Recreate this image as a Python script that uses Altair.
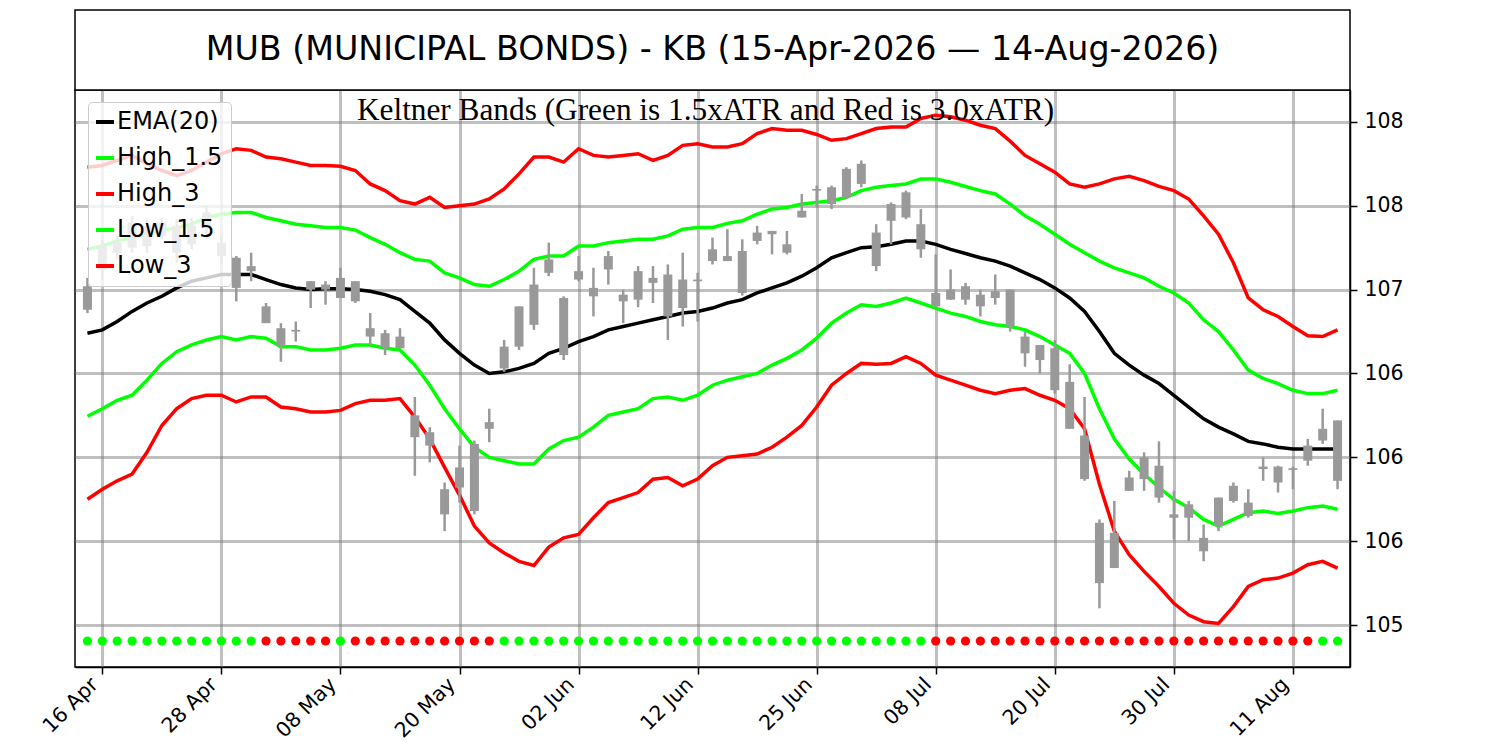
import json
import altair as alt
import pandas as pd

TITLE = "MUB (MUNICIPAL BONDS) - KB (15-Apr-2026 \u2014 14-Aug-2026)"
SUBTITLE = "Keltner Bands (Green is 1.5xATR and Red is 3.0xATR)"

DATES = [
    "15 Apr", "16 Apr", "17 Apr", "20 Apr", "21 Apr", "22 Apr", "23 Apr", "24 Apr", "27 Apr", "28 Apr",
    "29 Apr", "30 Apr", "01 May", "04 May", "05 May", "06 May", "07 May", "08 May", "11 May", "12 May",
    "13 May", "14 May", "15 May", "18 May", "19 May", "20 May", "21 May", "22 May", "26 May", "27 May",
    "28 May", "29 May", "01 Jun", "02 Jun", "03 Jun", "04 Jun", "05 Jun", "08 Jun", "09 Jun", "10 Jun",
    "11 Jun", "12 Jun", "15 Jun", "16 Jun", "17 Jun", "18 Jun", "22 Jun", "23 Jun", "24 Jun", "25 Jun",
    "26 Jun", "29 Jun", "30 Jun", "01 Jul", "02 Jul", "06 Jul", "07 Jul", "08 Jul", "09 Jul", "10 Jul",
    "13 Jul", "14 Jul", "15 Jul", "16 Jul", "17 Jul", "20 Jul", "21 Jul", "22 Jul", "23 Jul", "24 Jul",
    "27 Jul", "28 Jul", "29 Jul", "30 Jul", "31 Jul", "03 Aug", "04 Aug", "05 Aug", "06 Aug", "07 Aug",
    "10 Aug", "11 Aug", "12 Aug", "13 Aug", "14 Aug",
]
X_TICKS = [1, 9, 17, 25, 33, 41, 49, 57, 65, 73, 81]
Y_TICKS = [105.0, 105.5, 106.0, 106.5, 107.0, 107.5, 108.0]
Y_LABELS = ["105", "106", "106", "106", "107", "108", "108"]

OPEN = [107.02, 107.12, 107.28, 107.25, 107.38, 107.32, 107.38, 107.27, 107.38, 107.28,
        107.01, 107.14, 106.90, 106.77, 106.76, 107.05, 107.03, 106.95, 107.05, 106.77,
        106.74, 106.65, 106.25, 106.15, 105.66, 105.82, 105.68, 106.21, 106.53, 106.66,
        106.79, 107.10, 106.61, 107.06, 107.01, 107.12, 106.97, 106.94, 107.07, 107.09,
        106.89, 107.06, 107.17, 107.20, 107.23, 107.29, 107.35, 107.27, 107.43, 107.60,
        107.51, 107.55, 107.63, 107.34, 107.41, 107.43, 107.39, 106.98, 106.94, 107.02,
        106.97, 106.99, 107.00, 106.72, 106.67, 106.65, 106.45, 106.13, 105.61, 105.34,
        105.80, 105.87, 105.95, 105.66, 105.72, 105.52, 105.59, 105.83, 105.65, 105.945,
        105.945, 105.935, 105.98, 106.10, 106.22]
HIGH = [107.07, 107.30, 107.32, 107.44, 107.42, 107.43, 107.42, 107.43, 107.50, 107.32,
        107.20, 107.22, 106.92, 106.80, 106.81, 107.05, 107.05, 107.13, 107.05, 106.86,
        106.76, 106.77, 106.36, 106.18, 105.85, 106.07, 106.10, 106.29, 106.70, 106.90,
        107.13, 107.28, 106.96, 107.20, 107.13, 107.23, 107.00, 107.14, 107.14, 107.15,
        107.22, 107.10, 107.31, 107.36, 107.30, 107.38, 107.35, 107.35, 107.57, 107.62,
        107.62, 107.73, 107.77, 107.39, 107.52, 107.59, 107.48, 107.21, 107.12, 107.04,
        107.00, 107.09, 107.00, 106.75, 106.67, 106.70, 106.555, 106.36, 105.63, 105.74,
        105.92, 106.03, 106.095, 105.80, 105.74, 105.60, 105.76, 105.85, 105.81, 106.00,
        105.95, 105.945, 106.11, 106.29, 106.22]
LOW = [106.86, 107.06, 107.18, 107.22, 107.22, 107.30, 107.16, 107.24, 107.30, 107.15,
       106.93, 107.05, 106.80, 106.57, 106.69, 106.89, 106.91, 106.95, 106.92, 106.67,
       106.61, 106.65, 105.89, 105.97, 105.56, 105.73, 105.66, 106.09, 106.51, 106.64,
       106.76, 107.08, 106.58, 107.05, 106.84, 107.03, 106.80, 106.895, 106.92, 106.70,
       106.78, 106.81, 107.15, 107.17, 106.965, 107.27, 107.21, 107.21, 107.43, 107.49,
       107.48, 107.54, 107.61, 107.11, 107.27, 107.42, 107.19, 106.90, 106.94, 106.91,
       106.84, 106.91, 106.75, 106.54, 106.50, 106.38, 106.17, 105.86, 105.10, 105.34,
       105.80, 105.80, 105.73, 105.51, 105.50, 105.38, 105.56, 105.73, 105.64, 105.86,
       105.79, 105.81, 105.95, 106.08, 105.81]
CLOSE = [106.88, 107.26, 107.22, 107.40, 107.26, 107.40, 107.22, 107.38, 107.46, 107.20,
         107.19, 107.11, 106.80, 106.67, 106.75, 107.00, 107.00, 107.07, 106.93, 106.72,
         106.65, 106.72, 106.12, 106.07, 105.81, 105.94, 106.08, 106.17, 106.66, 106.90,
         107.03, 107.18, 106.95, 107.11, 106.96, 107.20, 106.93, 107.11, 107.04, 106.84,
         107.06, 107.05, 107.24, 107.17, 106.98, 107.34, 107.33, 107.22, 107.47, 107.59,
         107.61, 107.72, 107.75, 107.14, 107.51, 107.58, 107.24, 106.90, 107.00, 106.94,
         106.90, 106.95, 106.78, 106.62, 106.58, 106.40, 106.17, 105.87, 105.25, 105.55,
         105.88, 106.00, 105.76, 105.64, 105.64, 105.44, 105.76, 105.74, 105.73, 105.93,
         105.85, 105.925, 106.07, 106.17, 105.86]

EMA = [106.74, 106.76, 106.81, 106.87, 106.92, 106.96, 107.01, 107.05, 107.07, 107.09,
       107.09, 107.09, 107.06, 107.03, 107.01, 107.00, 107.005, 107.005, 107.00, 106.99,
       106.97, 106.94, 106.87, 106.80, 106.70, 106.62, 106.55, 106.50, 106.51, 106.53,
       106.56, 106.62, 106.65, 106.69, 106.72, 106.76, 106.78, 106.80, 106.82, 106.84,
       106.86, 106.87, 106.89, 106.92, 106.94, 106.98, 107.01, 107.04, 107.08, 107.13,
       107.19, 107.22, 107.25, 107.255, 107.27, 107.29, 107.29, 107.27, 107.24, 107.215,
       107.19, 107.17, 107.14, 107.10, 107.06, 107.01, 106.95, 106.87, 106.75, 106.62,
       106.55, 106.49, 106.44, 106.37, 106.30, 106.23, 106.18, 106.14, 106.095, 106.08,
       106.06, 106.05, 106.05, 106.05, 106.05]
HIGH_15 = [107.24, 107.26, 107.29, 107.31, 107.33, 107.35, 107.37, 107.39, 107.43, 107.45,
           107.46, 107.46, 107.43, 107.41, 107.39, 107.38, 107.37, 107.37, 107.355, 107.31,
           107.27, 107.22, 107.18, 107.17, 107.10, 107.07, 107.03, 107.02, 107.06, 107.11,
           107.18, 107.20, 107.20, 107.26, 107.26, 107.28, 107.29, 107.30, 107.30, 107.32,
           107.36, 107.37, 107.37, 107.395, 107.41, 107.45, 107.48, 107.49, 107.51, 107.52,
           107.53, 107.55, 107.59, 107.61, 107.62, 107.63, 107.66, 107.66, 107.64, 107.615,
           107.59, 107.57, 107.51, 107.44, 107.39, 107.33, 107.27, 107.22, 107.17, 107.13,
           107.10, 107.07, 107.02, 106.98, 106.92, 106.82, 106.75, 106.64, 106.52, 106.47,
           106.44, 106.40, 106.38, 106.38, 106.40]
HIGH_3 = [107.73, 107.74, 107.77, 107.80, 107.75, 107.71, 107.68, 107.71, 107.76, 107.81,
          107.84, 107.83, 107.79, 107.78, 107.76, 107.74, 107.74, 107.735, 107.71, 107.63,
          107.59, 107.53, 107.51, 107.55, 107.49, 107.50, 107.51, 107.54, 107.60, 107.69,
          107.79, 107.79, 107.76, 107.84, 107.80, 107.79, 107.80, 107.81, 107.77, 107.80,
          107.86, 107.87, 107.85, 107.85, 107.87, 107.93, 107.96, 107.95, 107.95, 107.925,
          107.89, 107.90, 107.93, 107.96, 107.97, 107.97, 108.02, 108.04, 108.03, 108.01,
          107.98, 107.96, 107.885, 107.80, 107.75, 107.70, 107.63, 107.61, 107.63, 107.66,
          107.675, 107.65, 107.615, 107.59, 107.54, 107.44, 107.33, 107.16, 106.95, 106.88,
          106.84, 106.78, 106.725, 106.72, 106.76]
LOW_15 = [106.245, 106.29, 106.34, 106.37, 106.46, 106.56, 106.63, 106.67, 106.70, 106.72,
          106.70, 106.72, 106.71, 106.66, 106.66, 106.64, 106.64, 106.65, 106.67, 106.67,
          106.65, 106.64, 106.55, 106.43, 106.29, 106.17, 106.06, 106.00, 105.98, 105.96,
          105.96, 106.05, 106.10, 106.12, 106.18, 106.25, 106.27, 106.29, 106.35, 106.36,
          106.34, 106.37, 106.43, 106.46, 106.48, 106.50, 106.55, 106.59, 106.64, 106.71,
          106.80, 106.86, 106.91, 106.90, 106.92, 106.95, 106.92, 106.89, 106.86, 106.84,
          106.81, 106.79, 106.78, 106.76, 106.72, 106.67, 106.62, 106.50, 106.29, 106.11,
          105.99, 105.90, 105.82, 105.75, 105.70, 105.63, 105.59, 105.63, 105.67, 105.68,
          105.665, 105.68, 105.70, 105.71, 105.69]
LOW_3 = [105.75, 105.81, 105.86, 105.90, 106.03, 106.19, 106.29, 106.35, 106.37, 106.37,
         106.33, 106.36, 106.36, 106.30, 106.29, 106.27, 106.27, 106.28, 106.32, 106.34,
         106.34, 106.35, 106.24, 106.11, 105.94, 105.775, 105.59, 105.49, 105.43, 105.38,
         105.355, 105.465, 105.52, 105.54, 105.64, 105.73, 105.76, 105.79, 105.87, 105.88,
         105.83, 105.87, 105.95, 106.00, 106.01, 106.02, 106.06, 106.12, 106.19, 106.30,
         106.43, 106.50, 106.56, 106.555, 106.56, 106.60, 106.56, 106.49, 106.46, 106.43,
         106.40, 106.38, 106.40, 106.41, 106.37, 106.34, 106.29, 106.17, 105.84, 105.56,
         105.42, 105.32, 105.23, 105.13, 105.06, 105.02, 105.01, 105.11, 105.23, 105.27,
         105.28, 105.31, 105.36, 105.38, 105.34]

# signal dots: g = green, r = red
SIGNAL = (["g"] * 12 + ["r"] * 5 + ["g"] + ["r"] * 10 + ["g"] * 29 + ["r"] * 26 + ["g"] * 2)
DOT_LEVEL = 104.905

SERIES = ["EMA(20)", "High_1.5", "High_3", "Low_1.5", "Low_3"]
SERIES_COLORS = ["#000000", "#00ff00", "#ff0000", "#00ff00", "#ff0000"]
SERIES_VALUES = [EMA, HIGH_15, HIGH_3, LOW_15, LOW_3]

N = len(DATES)
idx = list(range(N))

candles = pd.DataFrame({"i": idx, "date": DATES, "open": OPEN, "high": HIGH,
                        "low": LOW, "close": CLOSE})
lines = pd.DataFrame([
    {"i": i, "series": name, "value": vals[i]}
    for name, vals in zip(SERIES, SERIES_VALUES) for i in idx
])
dots = pd.DataFrame({"i": idx, "sig": SIGNAL, "lvl": [DOT_LEVEL] * N})

W, H = 1275, 577
GRAY = "#999999"
TICK_FONT = 20.5

x_axis = alt.Axis(values=X_TICKS, labelExpr=f"{json.dumps(DATES)}[datum.value]",
                  labelAngle=-45, labelAlign="right", labelBaseline="top",
                  labelPadding=0, labelOffset=-15, title=None, grid=True, tickSize=7,
                  labelFontSize=TICK_FONT, labelFont="DejaVu Sans", labelColor="black")
y_axis = alt.Axis(orient="right", values=Y_TICKS,
                  labelExpr=f"{json.dumps(Y_LABELS)}[indexof({json.dumps(Y_TICKS)}, datum.value)]",
                  title=None, grid=True, labelPadding=7, tickSize=7,
                  labelFontSize=TICK_FONT, labelFont="DejaVu Sans", labelColor="black")
xs = alt.Scale(domain=[-0.5, N - 0.5], nice=False, zero=False)
ys = alt.Scale(domain=[104.75, 108.19], nice=False, zero=False)

X = alt.X("i:Q", scale=xs, axis=x_axis)

line_layer = alt.Chart(lines).mark_line(strokeWidth=3.5).encode(
    x=X,
    y=alt.Y("value:Q", scale=ys, axis=y_axis),
    color=alt.Color("series:N",
                    scale=alt.Scale(domain=SERIES, range=SERIES_COLORS),
                    legend=alt.Legend(title=None, orient="none", legendX=13, legendY=12,
                                      symbolType="stroke", symbolSize=324,
                                      symbolStrokeWidth=4, symbolOffset=-3,
                                      labelFontSize=24,
                                      labelFont="DejaVu Sans", labelColor="black",
                                      rowPadding=12, padding=8, labelOffset=0,
                                      fillColor="rgba(255,255,255,0.8)",
                                      strokeColor="#cccccc", cornerRadius=4, zindex=1)),
)

wicks = alt.Chart(candles).mark_rule(color=GRAY, strokeWidth=2.5).encode(
    x=X, y=alt.Y("low:Q", scale=ys, axis=y_axis), y2="high:Q"
)
bodies = alt.Chart(candles).mark_bar(color=GRAY, size=9).encode(
    x=X, y=alt.Y("open:Q", scale=ys, axis=y_axis), y2="close:Q"
)

green_dots = alt.Chart(dots).transform_filter("datum.sig == 'g'").mark_circle(
    size=85, opacity=1, color="#00ff00").encode(
    x=X, y=alt.Y("lvl:Q", scale=ys, axis=y_axis))
red_dots = alt.Chart(dots).transform_filter("datum.sig == 'r'").mark_circle(
    size=85, opacity=1, color="#ff0000").encode(
    x=X, y=alt.Y("lvl:Q", scale=ys, axis=y_axis))

title_df = pd.DataFrame({"t": [TITLE], "s": [SUBTITLE]})
title_box = alt.Chart(title_df).mark_rect(fill="white", stroke="black", strokeWidth=1.5).encode(
    x=alt.value(0), x2=alt.value(W), y=alt.value(-80), y2=alt.value(0))
title_text = alt.Chart(title_df).mark_text(font="DejaVu Sans", fontSize=33.3, align="center",
                                           baseline="middle", color="black").encode(
    x=alt.value(W / 2), y=alt.value(-40), text="t:N")
subtitle_text = alt.Chart(title_df).mark_text(font="Liberation Serif", fontSize=31.3,
                                              align="center", baseline="middle",
                                              color="black").encode(
    x=alt.value(W / 2 - 7), y=alt.value(21), text="s:N")

chart = alt.layer(
    title_box, title_text, line_layer, wicks, bodies, green_dots, red_dots, subtitle_text
).properties(
    width=W, height=H,
    autosize=alt.AutoSizeParams(type="none"),
    padding={"left": 67, "top": 82, "right": 90, "bottom": 95},
).configure_view(
    stroke="black", strokeWidth=1.5
).configure_axis(
    gridColor="#808080", gridOpacity=0.5, gridWidth=3,
    domainColor="black", domainWidth=1.5, tickColor="black", tickWidth=1.5, tickSize=7,
    labelFont="DejaVu Sans", labelFontSize=TICK_FONT, labelColor="black",
)

chart.save("out.html", embed_options={"renderer": "svg", "actions": False})
